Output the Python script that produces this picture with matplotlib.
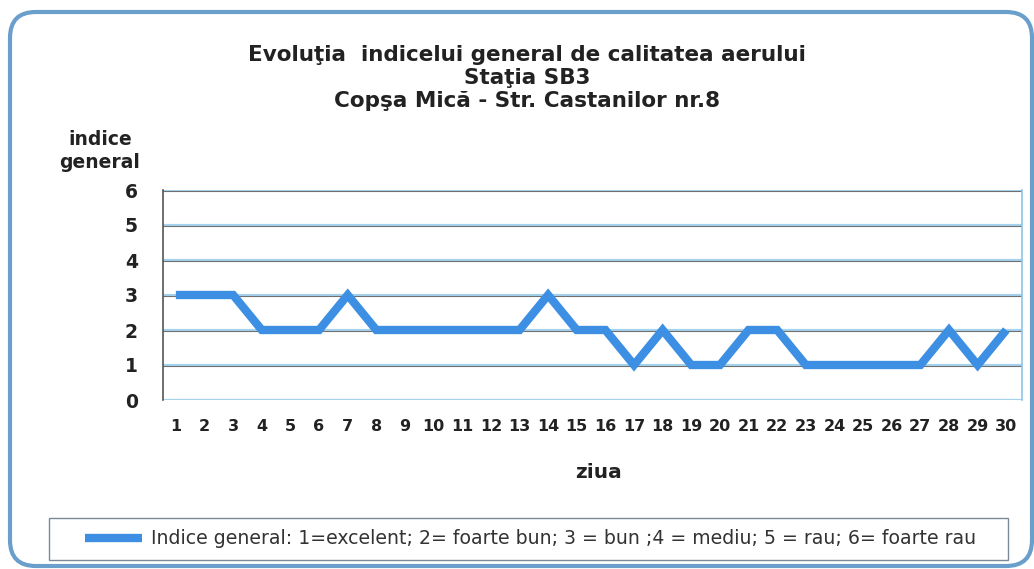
import matplotlib
matplotlib.use("Agg")
import matplotlib.pyplot as plt
from matplotlib.patches import FancyBboxPatch, Rectangle

days = list(range(1, 31))
values = [3, 3, 3, 2, 2, 2, 3, 2, 2, 2, 2, 2, 2, 3, 2, 2, 1, 2, 1, 1,
          2, 2, 1, 1, 1, 1, 1, 2, 1, 2]
yticks = [0, 1, 2, 3, 4, 5, 6]
title_lines = ["Evoluţia  indicelui general de calitatea aerului",
               "Staţia SB3",
               "Copşa Mică - Str. Castanilor nr.8"]
legend_label = "Indice general: 1=excelent; 2= foarte bun; 3 = bun ;4 = mediu; 5 = rau; 6= foarte rau"

plt.rcParams['font.family'] = ['DejaVu Sans']

W, H = 1034, 569
fig = plt.figure(figsize=(W / 100, H / 100), dpi=100)
fig.patch.set_facecolor('white')

# outer rounded border
border = FancyBboxPatch((10 / W, 3 / H), 1022 / W, 554 / H,
                        boxstyle="round,pad=0,rounding_size=0.025",
                        transform=fig.transFigure, facecolor='none',
                        edgecolor='#6a9fcc', linewidth=3, mutation_aspect=W / H)
fig.patches.append(border)

ax = fig.add_axes([163 / W, 1 - 400 / H, (1022 - 163) / W, (400 - 190) / H])
ax.plot(days, values, color='#3d8fe3', linewidth=6, solid_joinstyle='miter',
        solid_capstyle='butt', label=legend_label, zorder=3)
ax.set_xlim(0.55, 30.55)
ax.set_ylim(0, 6)
ax.set_yticks(yticks)
ax.set_xticks(days)
for y in yticks[1:]:
    ax.axhline(y, color='#a5d3ee', linewidth=1.6, zorder=1)
    ax.axhline(y - 0.04, color='#707070', linewidth=0.8, zorder=1)
for s in ['top', 'bottom']:
    ax.spines[s].set_visible(False)
ax.axhline(0, color='#a5d3ee', linewidth=1.6, zorder=1)
ax.spines['right'].set_color('#8cc4e6')
ax.spines['right'].set_linewidth(1.2)
ax.spines['left'].set_color('#555555')
ax.spines['left'].set_linewidth(1.2)
ax.tick_params(axis='both', length=0, colors='#222222')
ax.tick_params(axis='y', pad=18, labelsize=13.5)
ax.tick_params(axis='x', pad=14, labelsize=11.5)
for lab in ax.get_xticklabels() + ax.get_yticklabels():
    lab.set_fontweight('bold')

tkw = dict(ha='center', va='center', fontsize=15.5, fontweight='bold', color='#222222')
fig.text(527 / W, 1 - 55 / H, title_lines[0], **tkw)
fig.text(527 / W, 1 - 78 / H, title_lines[1], **tkw)
fig.text(527 / W, 1 - 101 / H, title_lines[2], **tkw)
fig.text(100 / W, 1 - 151 / H, "indice\ngeneral", ha='center', va='center',
         fontsize=13.5, fontweight='bold', color='#222222', linespacing=1.3)
fig.text(598 / W, 1 - 472 / H, "ziua", ha='center', va='center',
         fontsize=14.5, fontweight='bold', color='#222222')

# legend frame drawn separately
frame = Rectangle((49 / W, 1 - 560 / H), (1008 - 49) / W, (560 - 518) / H,
                  transform=fig.transFigure, facecolor='white',
                  edgecolor='#7a8a99', linewidth=1.0, zorder=0)
fig.patches.append(frame)
leg = fig.legend(loc='center left', bbox_to_anchor=(85 / W, 1 - 539 / H),
                 frameon=False, fontsize=13.6, handlelength=3.0,
                 handletextpad=0.5, borderpad=0, borderaxespad=0,
                 labelcolor='#333333')

fig.savefig("out.png", dpi=100, facecolor='white')
